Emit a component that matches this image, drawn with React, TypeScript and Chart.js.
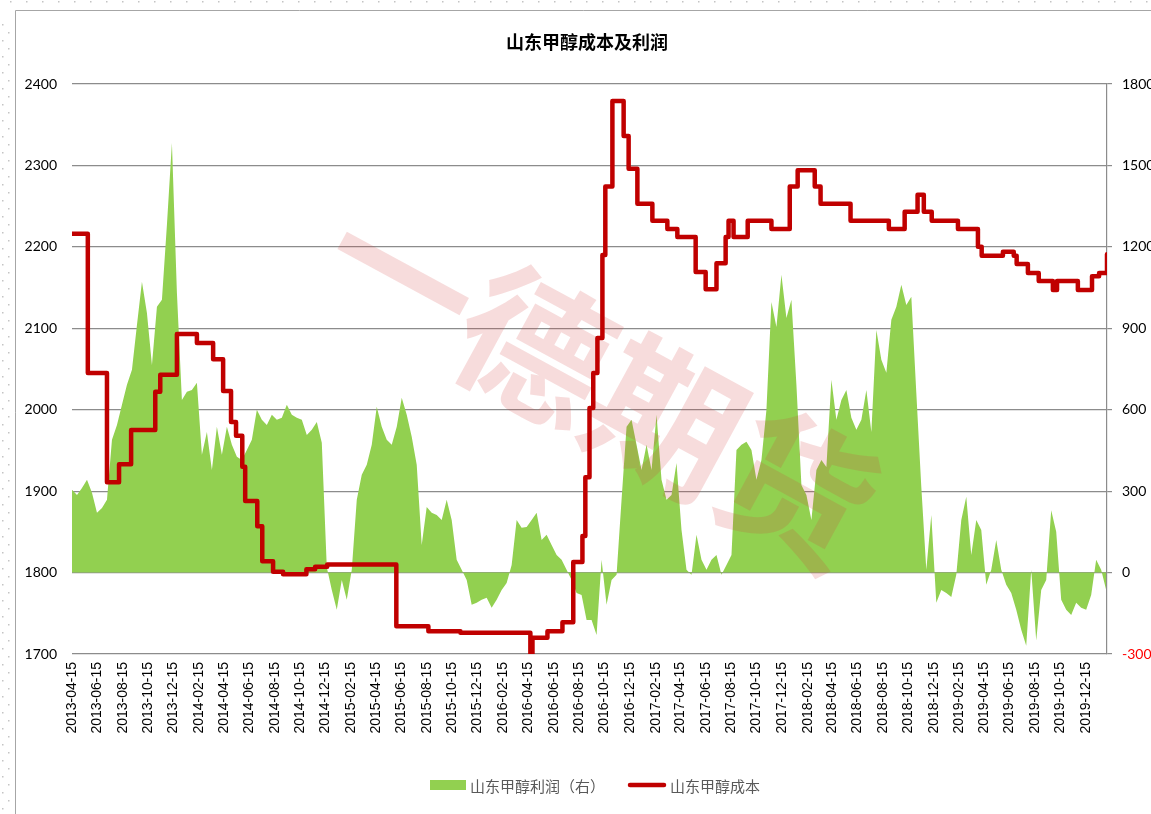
import React, { useEffect, useRef } from "react";
import { Chart, registerables } from "chart.js";

Chart.register(...registerables);

const chartTitle = "山东甲醇成本及利润";
const profitLabel = "山东甲醇利润（右）";
const costLabel = "山东甲醇成本";
const watermarkText = "一德期货";

const xTickLabels = [
  "2013-04-15", "2013-06-15", "2013-08-15", "2013-10-15", "2013-12-15",
  "2014-02-15", "2014-04-15", "2014-06-15", "2014-08-15", "2014-10-15", "2014-12-15",
  "2015-02-15", "2015-04-15", "2015-06-15", "2015-08-15", "2015-10-15", "2015-12-15",
  "2016-02-15", "2016-04-15", "2016-06-15", "2016-08-15", "2016-10-15", "2016-12-15",
  "2017-02-15", "2017-04-15", "2017-06-15", "2017-08-15", "2017-10-15", "2017-12-15",
  "2018-02-15", "2018-04-15", "2018-06-15", "2018-08-15", "2018-10-15", "2018-12-15",
  "2019-02-15", "2019-04-15", "2019-06-15", "2019-08-15", "2019-10-15", "2019-12-15",
];

const axisStartDate = "2013-04-15";
const axisEndDate = "2020-02-04";

// 山东甲醇成本 (left axis): date of each change and the new level
const costDates = [
  "2013-04-15", "2013-05-23", "2013-07-08", "2013-08-06", "2013-09-04", "2013-11-01",
  "2013-11-13", "2013-12-23", "2014-02-09", "2014-03-20", "2014-04-13", "2014-05-02",
  "2014-05-14", "2014-05-29", "2014-06-05", "2014-07-04", "2014-07-16", "2014-08-11",
  "2014-09-04", "2014-10-30", "2014-11-20", "2014-12-19", "2015-06-03", "2015-08-19",
  "2015-11-04", "2016-04-20", "2016-04-25", "2016-05-31", "2016-07-06", "2016-08-01",
  "2016-08-23", "2016-08-30", "2016-09-09", "2016-09-18", "2016-09-28", "2016-10-10",
  "2016-10-17", "2016-11-03", "2016-11-30", "2016-12-12", "2017-01-02", "2017-02-07",
  "2017-03-15", "2017-04-08", "2017-05-22", "2017-06-15", "2017-07-11", "2017-08-02",
  "2017-08-09", "2017-08-21", "2017-09-24", "2017-11-20", "2018-01-03", "2018-01-22",
  "2018-03-04", "2018-03-18", "2018-05-29", "2018-08-29", "2018-10-06", "2018-11-06",
  "2018-11-21", "2018-12-10", "2019-02-11", "2019-03-31", "2019-04-09", "2019-05-30",
  "2019-06-25", "2019-07-02", "2019-07-29", "2019-08-24", "2019-09-27", "2019-10-07",
  "2019-11-26", "2019-12-30", "2020-01-16", "2020-02-04",
];
const costValues = [
  2216, 2045, 1911, 1933, 1975, 2022,
  2043, 2093, 2082, 2062, 2023, 1985,
  1968, 1930, 1888, 1857, 1814, 1801,
  1798, 1804, 1807, 1810, 1734, 1728,
  1726, 1699, 1720, 1728, 1739, 1813,
  1845, 1917, 2002, 2045, 2088, 2190,
  2274, 2379, 2336, 2296, 2253, 2232,
  2222, 2212, 2169, 2148, 2180, 2212,
  2232, 2212, 2232, 2222, 2274, 2294,
  2274, 2253, 2232, 2222, 2243, 2264,
  2243, 2232, 2222, 2200, 2189, 2194,
  2189, 2179, 2168, 2158, 2147, 2158,
  2147, 2164, 2168, 2191,
];

// 山东甲醇利润 (right axis): one reading every 12 days from 2013-04-15
const profitStartDate = "2013-04-15";
const profitStepDays = 12;
const profitValues = [
  305, 286, 312, 342, 294, 220, 238, 268, 489, 544,
  618, 692, 747, 912, 1071, 956, 765, 979, 1005, 1281,
  1583, 1031, 636, 666, 673, 699, 434, 518, 378, 537,
  434, 537, 471, 427, 415, 452, 489, 600, 563, 544,
  581, 563, 570, 618, 581, 570, 563, 507, 526, 555,
  478, 20, -64, -137, -27, -100, 10, 268, 360, 397,
  471, 611, 537, 489, 471, 537, 644, 581, 500, 397,
  102, 242, 220, 212, 194, 268, 194, 47, 10, -27,
  -119, -111, -100, -93, -130, -100, -64, -38, 28, 194,
  165, 168, 194, 220, 120, 139, 102, 65, 47, 10,
  -27, -75, -83, -175, -175, -230, 47, -119, -27, -8,
  268, 537, 563, 471, 378, 471, 378, 581, 342, 268,
  286, 404, 157, 10, -8, 139, 47, 10, 47, 65,
  -8, 28, 65, 452, 471, 482, 452, 342, 415, 600,
  997, 905, 1097, 938, 1005, 692, 323, 286, 194, 378,
  415, 389, 710, 563, 636, 673, 570, 526, 563, 673,
  518, 894, 784, 736, 931, 979, 1060, 986, 1016, 662,
  315, 10, 212, -111, -64, -75, -90, -8, 194, 279,
  65, 194, 157, -45, 10, 120, 10, -45, -75, -137,
  -211, -270, 10, -250, -64, -27, 230, 150, -100, -137,
  -156, -111, -130, -137, -83, 47, 10, -64,
];

const DAY = 86400000;
function dayOf(s: string): number {
  const [y, m, d] = s.split("-").map(Number);
  const [y0, m0, d0] = axisStartDate.split("-").map(Number);
  return Math.round((Date.UTC(y, m - 1, d) - Date.UTC(y0, m0 - 1, d0)) / DAY);
}

const GREEN = "#92D050";
const RED = "#C00000";
const GRID = "#8c8c8c";

export default function App() {
  const canvasRef = useRef<HTMLCanvasElement | null>(null);

  useEffect(() => {
    document.body.style.margin = "0";
    const canvas = canvasRef.current;
    if (!canvas) return;

    const labelByDay: Record<number, string> = {};
    xTickLabels.forEach((l) => (labelByDay[dayOf(l)] = l));

    const costPoints = costDates.map((d, i) => ({ x: dayOf(d), y: costValues[i] }));
    const p0 = dayOf(profitStartDate);
    const profitPoints = profitValues.map((v, i) => ({ x: p0 + i * profitStepDays, y: v }));

    const decor = {
      id: "decor",
      beforeDraw(chart: any) {
        const ctx = chart.ctx as CanvasRenderingContext2D;
        ctx.save();
        ctx.fillStyle = "#ffffff";
        ctx.fillRect(0, 0, chart.width, chart.height);
        ctx.fillStyle = "#c4c4c4";
        for (let x = 10; x < chart.width; x += 16) ctx.fillRect(x, 1, 1.5, 1.5);
        for (let y = 24; y < chart.height; y += 16) {
          ctx.fillRect(2, y, 1.5, 1.5);
          ctx.fillRect(8, y + 8, 1.5, 1.5);
        }
        ctx.strokeStyle = "#a6a6a6";
        ctx.lineWidth = 1;
        ctx.beginPath();
        ctx.moveTo(15.5, chart.height);
        ctx.lineTo(15.5, 10.5);
        ctx.lineTo(chart.width, 10.5);
        ctx.stroke();
        ctx.restore();
      },
      afterDatasetDraw(chart: any, args: any) {
        if (args.index !== 1) return;
        const ctx = chart.ctx as CanvasRenderingContext2D;
        ctx.save();
        ctx.translate(600, 382);
        ctx.rotate((28.5 * Math.PI) / 180);
        ctx.font = "bold 150px 'Noto Sans CJK SC'";
        ctx.textAlign = "center";
        ctx.textBaseline = "middle";
        ctx.fillStyle = "rgba(210, 60, 60, 0.18)";
        ctx.fillText(watermarkText, 0, 0);
        ctx.restore();
      },
      afterDraw(chart: any) {
        const ctx = chart.ctx as CanvasRenderingContext2D;
        ctx.save();
        ctx.fillStyle = "#000000";
        ctx.font = "bold 18px 'Noto Sans CJK SC'";
        ctx.textAlign = "center";
        ctx.textBaseline = "middle";
        ctx.fillText(chartTitle, 587, 42);

        ctx.font = "15px 'Noto Sans CJK SC'";
        ctx.textAlign = "left";
        ctx.fillStyle = GREEN;
        ctx.fillRect(430, 780, 36, 10);
        ctx.fillStyle = "#595959";
        ctx.fillText(profitLabel, 470, 786);

        ctx.strokeStyle = RED;
        ctx.lineWidth = 4.5;
        ctx.lineCap = "round";
        ctx.beginPath();
        ctx.moveTo(630, 785);
        ctx.lineTo(664, 785);
        ctx.stroke();
        ctx.fillStyle = "#595959";
        ctx.fillText(costLabel, 670, 786);
        ctx.restore();
      },
    };

    const chart = new Chart(canvas, {
      type: "line",
      data: {
        datasets: [
          {
            label: costLabel,
            data: costPoints,
            yAxisID: "y",
            borderColor: RED,
            borderWidth: 4.5,
            stepped: "before",
            pointRadius: 0,
            fill: false,
            borderJoinStyle: "round",
            borderCapStyle: "round",
          },
          {
            label: profitLabel,
            data: profitPoints,
            yAxisID: "y1",
            borderWidth: 0,
            borderColor: GREEN,
            backgroundColor: GREEN,
            fill: "origin",
            pointRadius: 0,
            tension: 0,
          },
        ],
      } as any,
      options: {
        responsive: false,
        animation: false,
        devicePixelRatio: 1,
        layout: { padding: { top: 84, left: 0, right: 0, bottom: 0 } },
        plugins: {
          legend: { display: false },
          title: { display: false },
          tooltip: { enabled: false },
        },
        scales: {
          x: {
            type: "linear",
            min: 0,
            max: dayOf(axisEndDate),
            grid: { display: false, drawTicks: false },
            border: { display: false },
            afterBuildTicks: (s: any) => {
              s.ticks = xTickLabels.map((l) => ({ value: dayOf(l) }));
            },
            afterFit: (s: any) => {
              s.height = 160;
            },
            ticks: {
              autoSkip: false,
              maxRotation: 90,
              minRotation: 90,
              padding: 8,
              color: "#000000",
              font: { family: "'Liberation Sans'", size: 14 },
              callback: (v: any) => labelByDay[Math.round(Number(v))] ?? "",
            },
          },
          y: {
            position: "left",
            min: 1700,
            max: 2400,
            ticks: {
              stepSize: 100,
              padding: 15,
              color: "#000000",
              font: { family: "Lato", size: 14 },
              callback: (v: any) => String(v),
            },
            grid: { color: GRID, lineWidth: 1.2, drawTicks: false },
            border: { display: false },
            afterFit: (s: any) => {
              s.width = 72;
            },
          },
          y1: {
            position: "right",
            min: -300,
            max: 1800,
            ticks: {
              stepSize: 300,
              padding: 10,
              color: (c: any) => (c.tick && c.tick.value < 0 ? "#FF0000" : "#000000"),
              font: { family: "Lato", size: 14 },
              callback: (v: any) => String(v),
            },
            grid: { drawOnChartArea: false, drawTicks: true, tickLength: 5, color: GRID, lineWidth: 1.2 },
            border: { display: true, color: GRID, width: 1.2 },
            afterFit: (s: any) => {
              s.width = 44;
            },
          },
        },
      } as any,
      plugins: [decor],
    });

    return () => chart.destroy();
  }, []);

  return (
    <canvas
      ref={canvasRef}
      width={1151}
      height={814}
      style={{ position: "absolute", left: 0, top: 0, display: "block", width: 1151, height: 814 }}
    />
  );
}
